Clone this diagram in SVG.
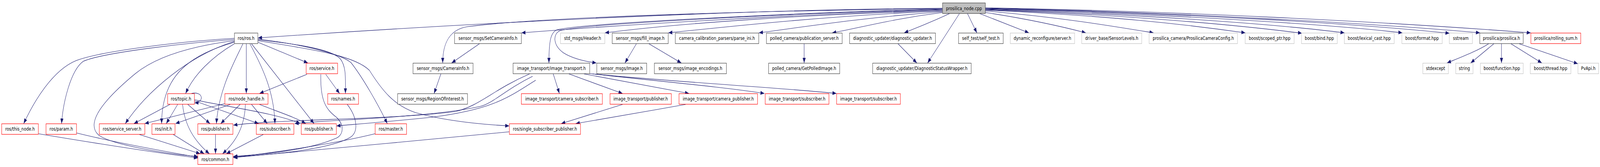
<svg xmlns="http://www.w3.org/2000/svg" width="5197" height="427" viewBox="0 0 5197 427" preserveAspectRatio="none">
<defs>
<marker id="a" markerUnits="userSpaceOnUse" markerWidth="13" markerHeight="10" refX="13" refY="5" orient="auto"><path d="M0,0 L13,5 L0,10 z" fill="#191970"/></marker>
</defs>
<style>
svg:root{width:100vw;height:100vh;max-width:5197px;max-height:427px;display:block}
rect{fill:#fff;stroke-width:1.2}
.d rect{stroke:#404040}
.g rect{stroke:#c0c0c0}
.r rect{stroke:#ff0000}
.root rect{fill:#bfbfbf;stroke:#404040}
text{font-family:"DejaVu Sans",sans-serif;font-size:12.6px;text-anchor:middle;fill:#000}
#edges path{fill:none;stroke:#191970;stroke-width:1.1;marker-end:url(#a)}
</style>
<rect x="0" y="0" width="5197" height="427" style="fill:#fff;stroke:none"/>
<g id="edges">
<path d="M3061,21 C2400,24 1500,60 838,97"/>
<path d="M3061,22 C2400,28 1750,45 1520,68 C1460,75 1438,110 1438,161"/>
<path d="M3061,23 C2500,35 1900,60 1810,76 C1790,82 1783,100 1783,161"/>
<path d="M3061,24 C2500,36 1900,62 1820,78 C1795,86 1795,115 1830,135 C1860,150 1900,157 1937,161"/>
<path d="M3061,25 C2500,40 2000,65 1694,84"/>
<path d="M3061,27 C2600,38 2200,60 1965,84"/>
<path d="M3061,28 C2700,40 2400,65 2171,84"/>
<path d="M3061,30 C2800,45 2600,70 2465,84"/>
<path d="M3061,32 C2900,48 2800,70 2703,84"/>
<path d="M3086,34 C3030,55 2980,70 2937,84"/>
<path d="M3117,34 L3013,161"/>
<path d="M3142,34 L3173,84"/>
<path d="M3180,34 L3342,84"/>
<path d="M3201,32 C3350,50 3450,68 3527,84"/>
<path d="M3201,28 C3450,45 3600,65 3747,84"/>
<path d="M3201,26 C3600,40 3850,62 4045,84"/>
<path d="M3201,25 C3650,38 4000,62 4229,85"/>
<path d="M3201,24 C3700,36 4150,62 4367,84"/>
<path d="M3201,23 C3700,33 4300,60 4555,84"/>
<path d="M3201,22 C3800,32 4400,60 4708,85"/>
<path d="M3201,21 C3800,30 4500,62 4807,84"/>
<path d="M3201,20 C3800,28 4500,55 4972,84"/>
<path d="M1557,112 L1467,161"/>
<path d="M1432,189 L1410,239"/>
<path d="M2067,112 L2030,161"/>
<path d="M2108,112 L2213,161"/>
<path d="M2612,112 L2612,161"/>
<path d="M2917,112 L2978,161"/>
<path d="M4835,112 C4800,130 4740,148 4700,161"/>
<path d="M4852,112 L4777,161"/>
<path d="M4877,112 L4877,161"/>
<path d="M4908,112 L5008,161"/>
<path d="M4935,112 L5125,163"/>
<path d="M1797,189 L1817,239"/>
<path d="M1848,189 L2022,239"/>
<path d="M1897,189 L2238,239"/>
<path d="M1916,188 C2100,205 2350,222 2483,239"/>
<path d="M1925,189 C2200,210 2550,225 2717,239"/>
<path d="M2022,267 L1823,316"/>
<path d="M2227,267 C2100,285 1950,305 1870,316"/>
<path d="M1720,189 C1600,230 1560,270 1480,285 C1300,305 900,305 758,320"/>
<path d="M1730,195 C1640,230 1600,265 1560,272 C1400,300 1100,305 957,316"/>
<path d="M1740,205 C1650,250 1600,280 1400,300 C1250,312 1150,318 1093,322"/>
<path d="M761,98 C600,105 330,130 247,155 C170,180 110,260 77,316"/>
<path d="M761,101 C600,110 330,135 270,157 C230,180 205,260 200,316"/>
<path d="M761,104 C600,120 500,150 440,188 C360,240 270,310 320,345 C360,370 550,395 643,400"/>
<path d="M761,106 C620,140 480,230 407,316"/>
<path d="M761,108 C620,140 525,190 525,316"/>
<path d="M761,112 C690,145 630,190 603,239"/>
<path d="M789,112 C760,160 710,230 703,316"/>
<path d="M800,112 L800,239"/>
<path d="M812,112 C850,170 890,230 893,316"/>
<path d="M817,112 L1020,316"/>
<path d="M838,108 L1000,161"/>
<path d="M838,102 C1000,115 1080,130 1105,150 C1125,170 1122,200 1122,239"/>
<path d="M838,100 C1000,115 1110,140 1140,160 C1180,200 1230,270 1258,316"/>
<path d="M838,104 C1000,125 1150,140 1200,180 C1240,230 1280,270 1350,288 C1450,310 1560,318 1654,322"/>
<path d="M622,239 C660,232 665,262 632,263"/>
<path d="M552,267 L435,316"/>
<path d="M577,267 L540,316"/>
<path d="M593,267 C600,320 630,360 680,393"/>
<path d="M610,267 L682,316"/>
<path d="M632,258 L840,316"/>
<path d="M632,255 C750,275 900,290 975,316"/>
<path d="M730,265 L470,316"/>
<path d="M748,267 L570,316"/>
<path d="M780,267 L717,316"/>
<path d="M797,267 C795,320 770,360 723,393"/>
<path d="M817,267 L868,316"/>
<path d="M843,267 C900,285 960,300 993,316"/>
<path d="M997,190 L843,239"/>
<path d="M1058,190 L1103,239"/>
<path d="M1042,190 C1040,260 1060,280 1093,300 C1120,320 1115,345 1093,353 C1000,385 850,395 758,400"/>
<path d="M1128,267 C1160,300 1165,335 1140,350 C1080,380 900,395 758,401"/>
<path d="M1218,342 C1100,365 900,390 758,402"/>
<path d="M1654,337 C1400,355 900,395 758,403"/>
<path d="M700,344 L700,393"/>
<path d="M563,344 L663,393"/>
<path d="M453,344 L650,393"/>
<path d="M855,344 L735,393"/>
<path d="M125,342 C300,365 500,390 643,404"/>
<path d="M249,340 C350,360 520,385 643,402"/>
</g>
<g id="n0" class="root"><rect x="3061.5" y="7.5" width="139" height="27"/><text x="3131" y="26">prosilica_node.cpp</text></g>
<g id="n1" class="d"><rect x="761.5" y="84.5" width="76" height="27"/><text x="799.5" y="102.5">ros/ros.h</text></g>
<g id="n2" class="d"><rect x="1476.5" y="84.5" width="217" height="27"/><text x="1585" y="102.5">sensor_msgs/SetCameraInfo.h</text></g>
<g id="n3" class="g"><rect x="1820.5" y="84.5" width="144" height="27"/><text x="1892.5" y="102.5">std_msgs/Header.h</text></g>
<g id="n4" class="d"><rect x="1988.5" y="84.5" width="182" height="27"/><text x="2079.5" y="102.5">sensor_msgs/fill_image.h</text></g>
<g id="n5" class="d"><rect x="2193.5" y="84.5" width="271" height="27"/><text x="2329" y="102.5">camera_calibration_parsers/parse_ini.h</text></g>
<g id="n6" class="d"><rect x="2489.5" y="84.5" width="246" height="27"/><text x="2612.5" y="102.5">polled_camera/publication_server.h</text></g>
<g id="n7" class="d"><rect x="2759.5" y="84.5" width="279" height="27"/><text x="2899" y="102.5">diagnostic_updater/diagnostic_updater.h</text></g>
<g id="n8" class="d"><rect x="3113.5" y="84.5" width="145" height="27"/><text x="3186" y="102.5">self_test/self_test.h</text></g>
<g id="n9" class="g"><rect x="3281.5" y="84.5" width="209" height="27"/><text x="3386" y="102.5">dynamic_reconfigure/server.h</text></g>
<g id="n10" class="g"><rect x="3513.5" y="84.5" width="195" height="27"/><text x="3611" y="102.5">driver_base/SensorLevels.h</text></g>
<g id="n11" class="g"><rect x="3732.5" y="84.5" width="287" height="27"/><text x="3876" y="102.5">prosilica_camera/ProsilicaCameraConfig.h</text></g>
<g id="n12" class="g"><rect x="4044.5" y="84.5" width="159" height="27"/><text x="4124" y="102.5">boost/scoped_ptr.hpp</text></g>
<g id="n13" class="g"><rect x="4227.5" y="84.5" width="116" height="27"/><text x="4285.5" y="102.5">boost/bind.hpp</text></g>
<g id="n14" class="g"><rect x="4366.5" y="84.5" width="162" height="27"/><text x="4447.5" y="102.5">boost/lexical_cast.hpp</text></g>
<g id="n15" class="g"><rect x="4553.5" y="84.5" width="131" height="27"/><text x="4619" y="102.5">boost/format.hpp</text></g>
<g id="n16" class="g"><rect x="4707.5" y="84.5" width="75" height="27"/><text x="4745" y="102.5">sstream</text></g>
<g id="n17" class="d"><rect x="4806.5" y="84.5" width="141" height="27"/><text x="4877" y="102.5">prosilica/prosilica.h</text></g>
<g id="n18" class="r"><rect x="4972.5" y="84.5" width="162" height="27"/><text x="5053.5" y="102.5">prosilica/rolling_sum.h</text></g>
<g id="n19" class="r"><rect x="994.5" y="161.5" width="102" height="27"/><text x="1045.5" y="179.5">ros/service.h</text></g>
<g id="n20" class="d"><rect x="1341.5" y="161.5" width="195" height="27"/><text x="1439" y="179.5">sensor_msgs/CameraInfo.h</text></g>
<g id="n21" class="d"><rect x="1666.5" y="161.5" width="249" height="27"/><text x="1791" y="179.5">image_transport/image_transport.h</text></g>
<g id="n22" class="d"><rect x="1938.5" y="161.5" width="162" height="27"/><text x="2019.5" y="179.5">sensor_msgs/Image.h</text></g>
<g id="n23" class="d"><rect x="2125.5" y="161.5" width="234" height="27"/><text x="2242.5" y="179.5">sensor_msgs/image_encodings.h</text></g>
<g id="n24" class="d"><rect x="2496.5" y="161.5" width="231" height="27"/><text x="2612" y="179.5">polled_camera/GetPolledImage.h</text></g>
<g id="n25" class="d"><rect x="2834.5" y="161.5" width="320" height="27"/><text x="2994.5" y="179.5">diagnostic_updater/DiagnosticStatusWrapper.h</text></g>
<g id="n26" class="g"><rect x="4621.5" y="161.5" width="83" height="27"/><text x="4663" y="179.5">stdexcept</text></g>
<g id="n27" class="g"><rect x="4728.5" y="161.5" width="56" height="27"/><text x="4756.5" y="179.5">string</text></g>
<g id="n28" class="g"><rect x="4808.5" y="161.5" width="139" height="27"/><text x="4878" y="179.5">boost/function.hpp</text></g>
<g id="n29" class="g"><rect x="4970.5" y="161.5" width="132" height="27"/><text x="5036.5" y="179.5">boost/thread.hpp</text></g>
<g id="n30" class="g"><rect x="5125.5" y="161.5" width="67" height="27"/><text x="5159" y="179.5">PvApi.h</text></g>
<g id="n31" class="r"><rect x="544.5" y="239.5" width="87" height="27"/><text x="588" y="257.5">ros/topic.h</text></g>
<g id="n32" class="r"><rect x="730.5" y="239.5" width="140" height="27"/><text x="800.5" y="257.5">ros/node_handle.h</text></g>
<g id="n33" class="r"><rect x="1064.5" y="239.5" width="100" height="27"/><text x="1114.5" y="257.5">ros/names.h</text></g>
<g id="n34" class="d"><rect x="1291.5" y="239.5" width="227" height="27"/><text x="1405" y="257.5">sensor_msgs/RegionOfInterest.h</text></g>
<g id="n35" class="r"><rect x="1693.5" y="239.5" width="263" height="27"/><text x="1825" y="257.5">image_transport/camera_subscriber.h</text></g>
<g id="n36" class="r"><rect x="1981.5" y="239.5" width="199" height="27"/><text x="2081" y="257.5">image_transport/publisher.h</text></g>
<g id="n37" class="r"><rect x="2205.5" y="239.5" width="255" height="27"/><text x="2333" y="257.5">image_transport/camera_publisher.h</text></g>
<g id="n38" class="r"><rect x="2485.5" y="239.5" width="207" height="27"/><text x="2589" y="257.5">image_transport/subscriber.h</text></g>
<g id="n39" class="r"><rect x="2717.5" y="239.5" width="207" height="27"/><text x="2821" y="257.5">image_transport/subscriber.h</text></g>
<g id="n40" class="r"><rect x="5.5" y="316.5" width="119" height="27"/><text x="65" y="334.5">ros/this_node.h</text></g>
<g id="n41" class="r"><rect x="149.5" y="316.5" width="99" height="27"/><text x="199" y="334.5">ros/param.h</text></g>
<g id="n42" class="r"><rect x="322.5" y="316.5" width="148" height="27"/><text x="396.5" y="334.5">ros/service_server.h</text></g>
<g id="n43" class="r"><rect x="493.5" y="316.5" width="75" height="27"/><text x="531" y="334.5">ros/init.h</text></g>
<g id="n44" class="r"><rect x="642.5" y="316.5" width="114" height="27"/><text x="699.5" y="334.5">ros/publisher.h</text></g>
<g id="n45" class="r"><rect x="832.5" y="316.5" width="122" height="27"/><text x="893.5" y="334.5">ros/subscriber.h</text></g>
<g id="n46" class="r"><rect x="978.5" y="316.5" width="114" height="27"/><text x="1035.5" y="334.5">ros/publisher.h</text></g>
<g id="n47" class="r"><rect x="1218.5" y="316.5" width="102" height="27"/><text x="1269.5" y="334.5">ros/master.h</text></g>
<g id="n48" class="r"><rect x="1654.5" y="316.5" width="231" height="27"/><text x="1770" y="334.5">ros/single_subscriber_publisher.h</text></g>
<g id="n49" class="r"><rect x="642.5" y="393.5" width="114" height="27"/><text x="699.5" y="411.5">ros/common.h</text></g>
</svg>
